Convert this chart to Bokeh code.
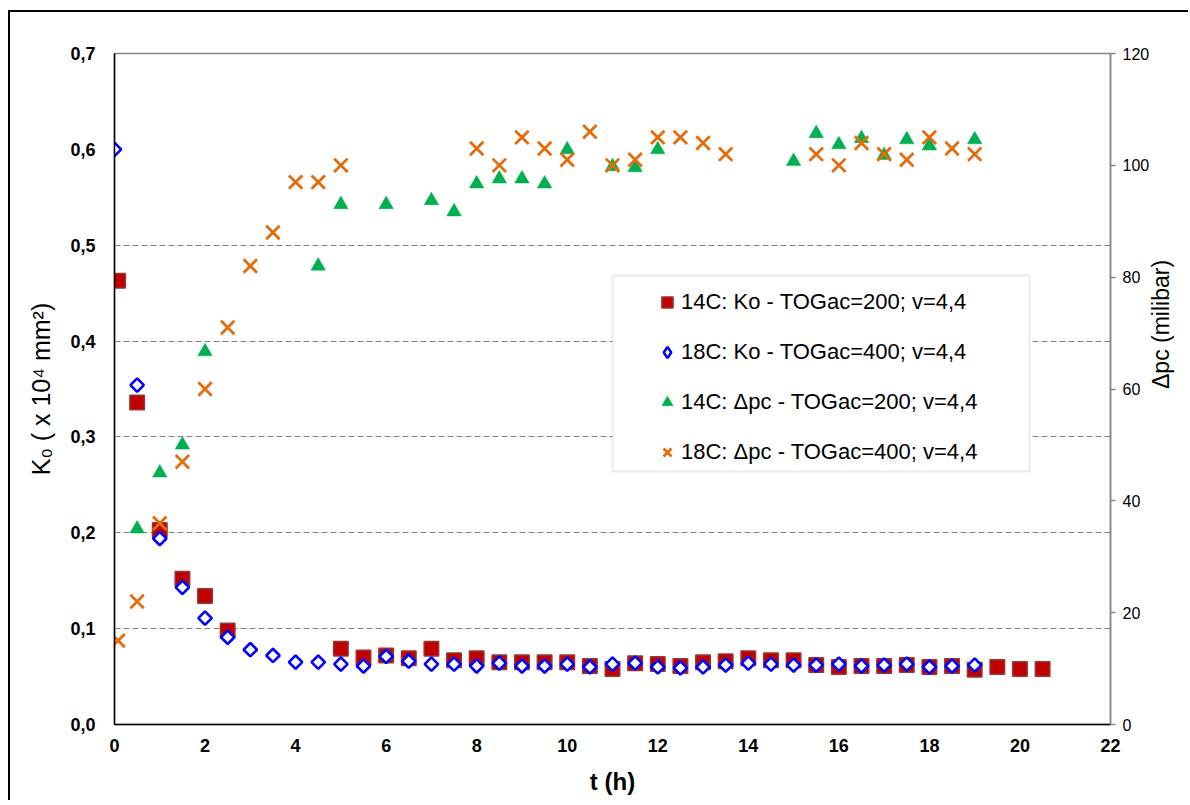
import math
from bokeh.plotting import figure
from bokeh.models import (Range1d, LinearAxis, FixedTicker, CustomJSTickFormatter,
                          Legend, LegendItem, BoxAnnotation, ColumnDataSource, Title)
from bokeh.embed import file_html
from bokeh.resources import INLINE

# ---------------- data ----------------
t_ko14 = [0.08, 0.5, 1, 1.5, 2, 2.5, 5, 5.5, 6, 6.5, 7, 7.5, 8, 8.5, 9, 9.5, 10,
          10.5, 11, 11.5, 12, 12.5, 13, 13.5, 14, 14.5, 15, 15.5, 16, 16.5, 17,
          17.5, 18, 18.5, 19, 19.5, 20, 20.5]
ko14 = [0.463, 0.336, 0.203, 0.152, 0.134, 0.098, 0.079, 0.070, 0.072, 0.069,
        0.079, 0.067, 0.069, 0.065, 0.065, 0.065, 0.065, 0.061, 0.058, 0.064,
        0.063, 0.061, 0.065, 0.066, 0.069, 0.067, 0.067, 0.062, 0.060, 0.061,
        0.061, 0.062, 0.060, 0.061, 0.057, 0.060, 0.058, 0.058]

t_ko18 = [0, 0.5, 1, 1.5, 2, 2.5, 3, 3.5, 4, 4.5, 5, 5.5, 6, 6.5, 7, 7.5, 8, 8.5,
          9, 9.5, 10, 10.5, 11, 11.5, 12, 12.5, 13, 13.5, 14, 14.5, 15, 15.5, 16,
          16.5, 17, 17.5, 18, 18.5, 19]
ko18 = [0.600, 0.354, 0.194, 0.143, 0.111, 0.091, 0.078, 0.072, 0.065, 0.065,
        0.063, 0.061, 0.071, 0.066, 0.063, 0.063, 0.061, 0.064, 0.061, 0.061,
        0.063, 0.060, 0.063, 0.064, 0.060, 0.059, 0.060, 0.062, 0.064, 0.063,
        0.062, 0.062, 0.063, 0.061, 0.062, 0.063, 0.060, 0.061, 0.062]

t_dp14 = [0.5, 1, 1.5, 2, 4.5, 5, 6, 7, 7.5, 8, 8.5, 9, 9.5, 10, 11, 11.5, 12,
          15, 15.5, 16, 16.5, 17, 17.5, 18, 19]
dp14 = [35, 45, 50, 66.7, 82, 93, 93, 93.7, 91.7, 96.7, 97.6, 97.6, 96.7, 102.8,
        99.8, 99.6, 102.8, 100.7, 105.7, 103.7, 104.8, 101.8, 104.6, 103.5, 104.6]

t_dp18 = [0.08, 0.5, 1, 1.5, 2, 2.5, 3, 3.5, 4, 4.5, 5, 8, 8.5, 9, 9.5, 10, 10.5,
          11, 11.5, 12, 12.5, 13, 13.5, 15.5, 16, 16.5, 17, 17.5, 18, 18.5, 19]
dp18 = [15, 22, 36, 47, 60, 71, 82, 88, 97, 97, 100, 103, 100, 105, 103, 101,
        106, 100, 101, 105, 105, 104, 102, 102, 100, 104, 102, 101, 105, 103, 102]

labels = ["14C: Ko - TOGac=200; v=4,4",
          "18C: Ko - TOGac=400; v=4,4",
          "14C: \u0394pc - TOGac=200; v=4,4",
          "18C: \u0394pc - TOGac=400; v=4,4"]

x_ticks = list(range(0, 23, 2))
k_ticks = [0.0, 0.1, 0.2, 0.3, 0.4, 0.5, 0.6, 0.7]
k_grid = [0.1, 0.2, 0.3, 0.4, 0.5]
dp_ticks = [0, 20, 40, 60, 80, 100, 120]

FONT = "Liberation Sans"
RIGHT_TITLE = "\u0394pc (milibar)"

# ---------------- figure ----------------
p = figure(width=1180, height=790,
           x_range=Range1d(0, 22), y_range=Range1d(0, 0.7),
           output_backend="svg", toolbar_location=None,
           min_border_left=104, min_border_right=80,
           min_border_top=41, min_border_bottom=78)
p.margin = (10, 0, 0, 8)
p.styles = {"border-left": "2px solid black", "border-top": "2px solid black"}
p.extra_y_ranges = {"dp": Range1d(0, 120)}
p.background_fill_color = "white"
p.border_fill_color = "white"
p.outline_line_color = "#868686"
p.outline_line_width = 1.5

# grid
p.xgrid.visible = False
p.ygrid.ticker = FixedTicker(ticks=k_grid)
p.ygrid.grid_line_color = "#808080"
p.ygrid.grid_line_dash = "6 3"
p.ygrid.grid_line_width = 1

# left axis
ya = p.yaxis[0]
ya.ticker = FixedTicker(ticks=k_ticks)
ya.formatter = CustomJSTickFormatter(code="return tick.toFixed(1).replace('.', ',');")
ya.axis_line_color = "black"
ya.axis_line_width = 1.5
ya.major_tick_line_color = None
ya.minor_tick_line_color = None
ya.major_tick_out = 0
ya.major_label_standoff = 19
ya.major_label_text_font = FONT
ya.major_label_text_font_size = "18px"
ya.major_label_text_font_style = "bold"
ya.major_label_text_color = "black"
ya.axis_label = "K\u2080 ( x 10\u2074 mm\u00b2)"
ya.axis_label_text_font = FONT
ya.axis_label_text_font_size = "25px"
ya.axis_label_text_font_style = "normal"
ya.axis_label_text_color = "black"
ya.axis_label_standoff = 12

# bottom axis
xa = p.xaxis[0]
xa.ticker = FixedTicker(ticks=x_ticks)
xa.axis_line_color = "black"
xa.axis_line_width = 1.5
xa.major_tick_line_color = None
xa.minor_tick_line_color = None
xa.major_tick_out = 0
xa.major_label_standoff = 14
xa.major_label_text_font = FONT
xa.major_label_text_font_size = "18px"
xa.major_label_text_font_style = "bold"
xa.major_label_text_color = "black"
xa.axis_label = "t (h)"
xa.axis_label_text_font = FONT
xa.axis_label_text_font_size = "24px"
xa.axis_label_text_font_style = "bold"
xa.axis_label_text_color = "black"
xa.axis_label_standoff = 13

# right axis
ra = LinearAxis(y_range_name="dp", ticker=FixedTicker(ticks=dp_ticks))
ra.axis_line_color = "#868686"
ra.axis_line_width = 1.5
ra.major_tick_line_color = "#868686"
ra.major_tick_line_width = 1.5
ra.major_tick_out = 5
ra.major_tick_in = 0
ra.minor_tick_line_color = None
ra.major_label_standoff = 7
ra.major_label_text_font = FONT
ra.major_label_text_font_size = "16px"
ra.major_label_text_color = "black"
if "axis_label_orientation" in ra.properties():
    ra.axis_label = RIGHT_TITLE
    ra.axis_label_text_font = FONT
    ra.axis_label_text_font_size = "23px"
    ra.axis_label_text_font_style = "normal"
    ra.axis_label_text_color = "black"
    ra.axis_label_standoff = 9
    ra.axis_label_orientation = -1.5 * math.pi
    p.add_layout(ra, "right")
else:
    p.add_layout(ra, "right")
    p.add_layout(Title(text=RIGHT_TITLE, align="center", text_font=FONT,
                       text_font_size="23px", text_font_style="normal",
                       text_color="black"), "right")

# ---------------- data glyphs ----------------
s1 = ColumnDataSource(dict(t=t_ko14, v=ko14))
s2 = ColumnDataSource(dict(t=t_ko18, v=ko18))
s3 = ColumnDataSource(dict(t=t_dp14, v=dp14))
s4 = ColumnDataSource(dict(t=t_dp18, v=dp18))

r1 = p.scatter("t", "v", source=s1, marker="square", size=14.5,
               fill_color="#C00000", line_color="#953735", line_width=1.5)
r2 = p.scatter("t", "v", source=s2, marker="square", angle=math.pi / 4, size=9.5,
               fill_color="white", line_color="#0000FF", line_width=2.6)
r3 = p.scatter("t", "v", source=s3, marker="triangle", size=14.5, y_range_name="dp",
               fill_color="#00B050", line_color="#00B050", line_width=0.5)
r4 = p.scatter("t", "v", source=s4, marker="x", size=19, y_range_name="dp",
               line_color="#E46C0A", line_width=2.8)

# hidden twin of series 2, only used to draw the diamond symbol in the legend
r2_leg = p.scatter("t", "v", source=s2, marker="diamond", size=12, visible=False,
                   fill_color="white", line_color="#0000FF", line_width=2.6)

# legend frame
frame = BoxAnnotation(left=11.0, right=20.21, bottom=0.2639, top=0.4684,
                      fill_color="white", fill_alpha=1.0,
                      line_color="#BFBFBF", line_width=2, level="annotation")
p.add_layout(frame)

legend = Legend(items=[LegendItem(label=labels[0], renderers=[r1]),
                       LegendItem(label=labels[1], renderers=[r2_leg]),
                       LegendItem(label=labels[2], renderers=[r3]),
                       LegendItem(label=labels[3], renderers=[r4])],
                location=(539, 257), orientation="vertical",
                padding=0, margin=0, spacing=20,
                glyph_width=28, glyph_height=30, label_height=30,
                label_standoff=0,
                label_text_font=FONT, label_text_font_size="22px",
                label_text_color="black",
                border_line_alpha=0, background_fill_alpha=0)
p.add_layout(legend)

open("out.html", "w").write(file_html(p, INLINE))
